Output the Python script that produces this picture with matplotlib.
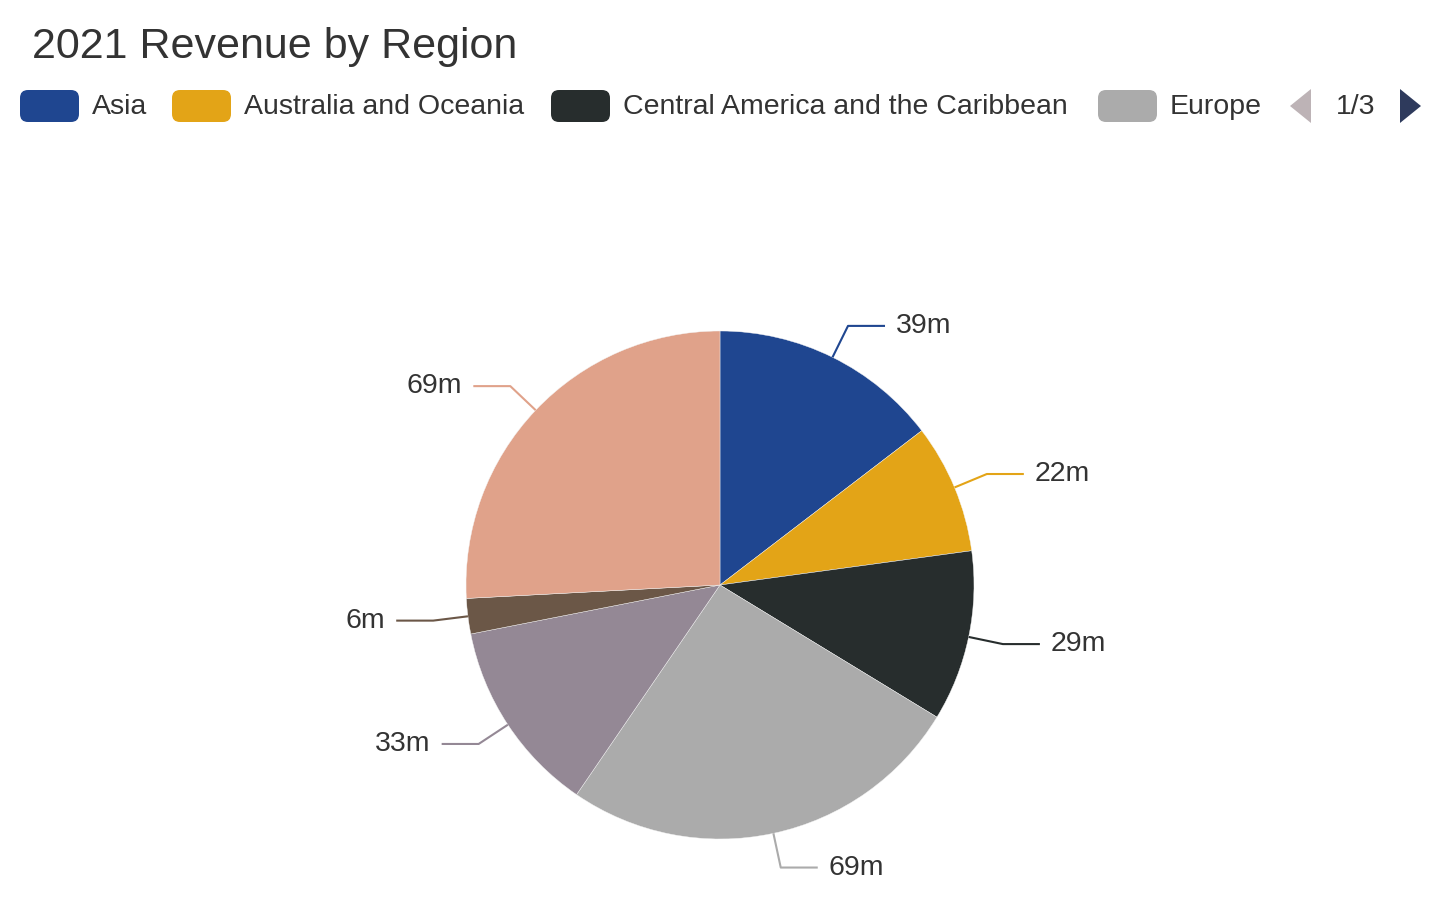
import matplotlib
matplotlib.use("Agg")
import matplotlib.pyplot as plt
from matplotlib.patches import FancyBboxPatch, Polygon
import numpy as np

plt.rcParams['font.family'] = ['Liberation Sans', 'DejaVu Sans']

# ---- data ----
title = "2021 Revenue by Region"
regions = ["Asia", "Australia and Oceania", "Central America and the Caribbean",
           "Europe", "Middle East and North Africa", "North America", "Sub-Saharan Africa"]
revenue_m = [39, 22, 29, 69, 33, 6, 69]
colors = ["#1F4690", "#E3A417", "#272D2D", "#ABABAB", "#948895", "#6B5747", "#E0A28A"]
legend_page = "1/3"
legend_visible = 4

W, H = 1440, 918
TXT = "#333333"

fig = plt.figure(figsize=(W / 100, H / 100), dpi=100)
ax = fig.add_axes([0, 0, 1, 1])

cx, cy, r = 720, H - 585, 254
wedges, _ = ax.pie(revenue_m, colors=colors, startangle=90, counterclock=False,
                   center=(cx, cy), radius=r, frame=True,
                   wedgeprops=dict(linewidth=0.3, edgecolor="#f4f4f4"))

ax.set_xlim(0, W)
ax.set_ylim(0, H)
ax.set_aspect("equal")
ax.axis("off")

# leader-line labels
len1, len2, gap = 35, 37, 11
for w, v, c in zip(wedges, revenue_m, colors):
    th = np.deg2rad((w.theta1 + w.theta2) / 2)
    d = np.array([np.cos(th), np.sin(th)])
    p0 = np.array([cx, cy]) + r * d
    p1 = np.array([cx, cy]) + (r + len1) * d
    s = 1 if d[0] >= 0 else -1
    p2 = p1 + np.array([s * len2, 0])
    ax.plot([p0[0], p1[0], p2[0]], [p0[1], p1[1], p2[1]], color=c, lw=1.5,
            solid_capstyle="butt")
    ax.text(p2[0] + s * gap, p2[1], f"{v}m", ha="left" if s > 0 else "right",
            va="center", fontsize=20.5, color=TXT)

# title
ax.text(32, H - 58, title, fontsize=31, color=TXT, ha="left", va="baseline")

# legend (first page)
sw_x = [20, 172, 551, 1098]
sw_w, sw_h = 59, 32
leg_y = H - 106
for i in range(legend_visible):
    x0 = sw_x[i]
    box = FancyBboxPatch((x0, leg_y - sw_h / 2), sw_w, sw_h,
                         boxstyle="round,pad=0,rounding_size=8",
                         facecolor=colors[i], edgecolor="none")
    ax.add_patch(box)
    ax.text(x0 + sw_w + 13, H - 114, regions[i], fontsize=20.5, color=TXT,
            ha="left", va="baseline")

# pager arrows
ax.add_patch(Polygon([[1311, leg_y + 17], [1311, leg_y - 17], [1290, leg_y]],
                     closed=True, facecolor="#BDB3B6", edgecolor="none"))
ax.text(1356, H - 114, legend_page, fontsize=20.5, color=TXT, ha="center", va="baseline")
ax.add_patch(Polygon([[1400, leg_y + 17], [1400, leg_y - 17], [1421, leg_y]],
                     closed=True, facecolor="#2E3A5C", edgecolor="none"))

fig.savefig("out.png", dpi=100, facecolor="white")
